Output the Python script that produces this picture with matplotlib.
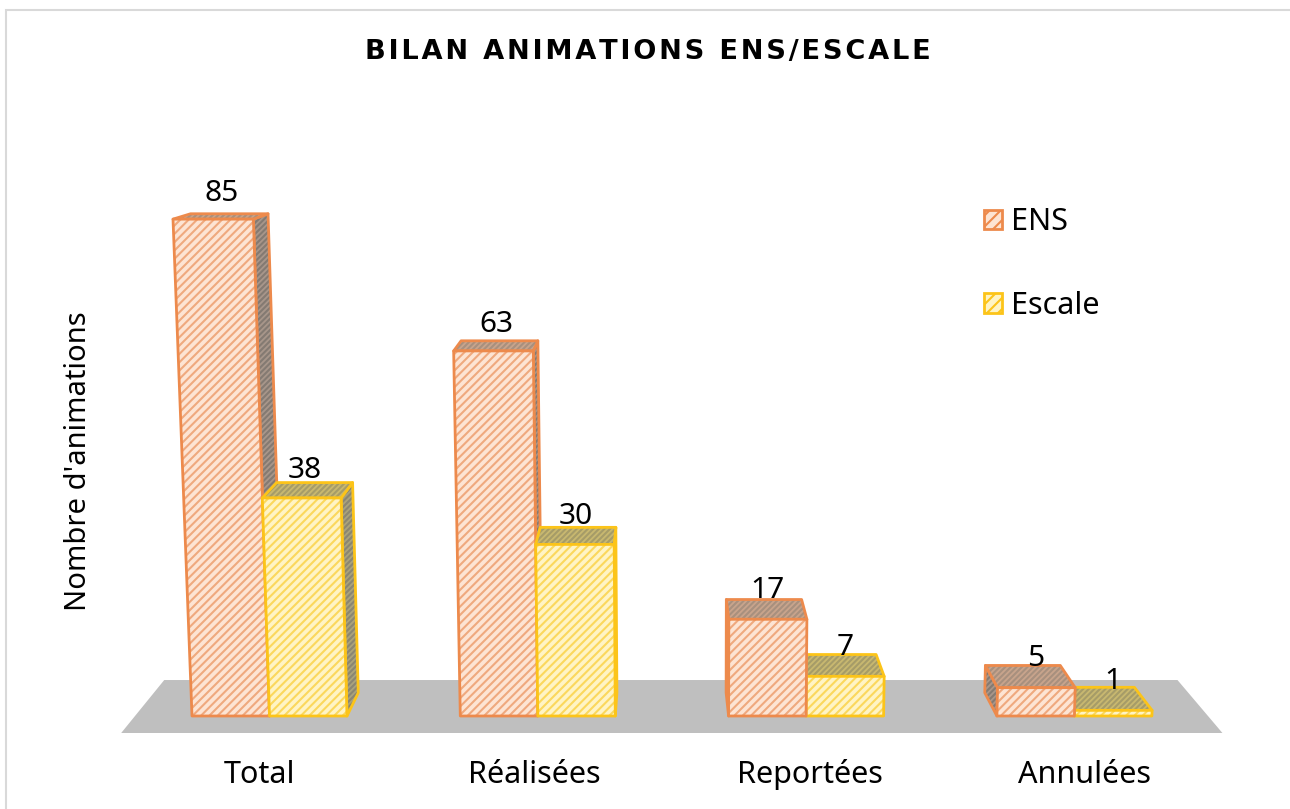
import matplotlib
matplotlib.use("Agg")
import matplotlib.pyplot as plt
from matplotlib.patches import Polygon, Rectangle, Patch

categories = ["Total", "Réalisées", "Reportées", "Annulées"]
series_names = ["ENS", "Escale"]
ens_values = [85, 63, 17, 5]
escale_values = [38, 30, 7, 1]
title = "BILAN ANIMATIONS ENS/ESCALE"
y_label = "Nombre d'animations"

FONT = "Noto Sans"
plt.rcParams["hatch.linewidth"] = 1.5

W, H = 1290, 809
fig = plt.figure(figsize=(W / 100, H / 100), dpi=100)
ax = fig.add_axes([0, 0, 1, 1])
ax.set_xlim(0, W)
ax.set_ylim(H, 0)
ax.axis("off")

# Perspective projection of (base x, value, depth) onto the picture
VPX, VPY = 660.0, 70.0
BASE_Y = 716.0
DEPTH = 0.036
FIRST_X, STEP, BAR_W = 192.0, 268.3, 77.5


def project(x, h, d=0.0):
    y0 = BASE_Y - (5.65 * h + 0.0023 * h * h)
    x0 = x + (x - 700.0) * 0.00044 * h
    return x0 + d * (VPX - x0), y0 + d * (VPY - y0)


def face(points, fill, hatch_col, edge, z, hatch="////"):
    ax.add_patch(Polygon(points, closed=True, facecolor=fill, edgecolor=hatch_col,
                         hatch=hatch, linewidth=0, zorder=z))
    ax.add_patch(Polygon(points, closed=True, facecolor="none", edgecolor=edge,
                         linewidth=2.0, joinstyle="round", zorder=z))


STYLES = {
    "ENS": dict(front="#fde4d3", hatch="#efa97e", edge="#ed8a4c",
                top="#c8a48c", top_h="#a8907e", side="#a8968a", side_h="#847a72"),
    "Escale": dict(front="#fff4c4", hatch="#fbd85c", edge="#fcc419",
                   top="#c8b870", top_h="#a69c68", side="#aaa37c", side_h="#8a8672"),
}

# Border and floor
ax.add_patch(Rectangle((6, 10), W + 20, H + 20, facecolor="white",
                       edgecolor="#d9d9d9", linewidth=1.5, zorder=0))
FLOOR_L, FLOOR_R = 135.0, 1208.0
ax.add_patch(Polygon([project(FLOOR_L, 0, -0.0263), project(FLOOR_R, 0, -0.0263),
                      project(FLOOR_R, 0, 0.0557), project(FLOOR_L, 0, 0.0557)],
                     closed=True, facecolor="#bfbfbf", edgecolor="none", zorder=1))

# Bars, the ones farthest from the vanishing point first
bars = []
for i, cat in enumerate(categories):
    x0 = FIRST_X + STEP * i
    bars.append(("ENS", x0, ens_values[i]))
    bars.append(("Escale", x0 + BAR_W, escale_values[i]))
bars.sort(key=lambda b: -abs(b[1] + BAR_W / 2 - VPX))

z = 2
for name, x, v in bars:
    s = STYLES[name]
    xr = x + BAR_W
    fl0, fr0 = project(x, 0), project(xr, 0)
    fl1, fr1 = project(x, v), project(xr, v)
    bl1, br1 = project(x, v, DEPTH), project(xr, v, DEPTH)
    bl0, br0 = project(x, 0, DEPTH), project(xr, 0, DEPTH)
    if bl1[0] < fl1[0] - 1:
        face([fl0, fl1, bl1, bl0], s["side"], s["side_h"], s["edge"], z, "//////")
    if br1[0] > fr1[0] + 1:
        face([fr0, fr1, br1, br0], s["side"], s["side_h"], s["edge"], z, "//////")
    face([fl1, fr1, br1, bl1], s["top"], s["top_h"], s["edge"], z, "//////")
    face([fl0, fr0, fr1, fl1], s["front"], s["hatch"], s["edge"], z)
    z += 1

# Value labels and category labels
for i, cat in enumerate(categories):
    x0 = FIRST_X + STEP * i
    for xs, v in ((x0, ens_values[i]), (x0 + BAR_W, escale_values[i])):
        base_c = project(xs + BAR_W / 2, 0)[0]
        top_c = project(xs + BAR_W / 2, v)[0]
        yb = project(xs, v, DEPTH)[1]
        ax.text((base_c + top_c) / 2, yb - (6 + 0.17 * v), str(v), ha="center", va="center",
                fontsize=21.5, family=FONT, color="black", zorder=50)
    cx, cy = project(x0 + BAR_W, 0, -0.025)
    ax.text(cx, 775, cat, ha="center", va="center", fontsize=22, family=FONT,
            color="black", zorder=50)

ax.text(648, 52, "\u200a".join(title), ha="center", va="center", fontsize=19.6,
        fontweight="bold", family="DejaVu Sans", color="black", zorder=50)
ax.text(79, 461, y_label, rotation=90, ha="center", va="center", fontsize=21,
        family=FONT, color="black", zorder=50)

handles = [Patch(facecolor=STYLES[n]["front"], edgecolor=STYLES[n]["edge"], hatch="///",
                 linewidth=2) for n in series_names]
leg = ax.legend(handles, series_names, loc="upper left", bbox_to_anchor=(984 / W, 1 - 207.5 / H),
                frameon=False, prop={"family": FONT, "size": 22}, handlelength=0.6,
                handleheight=0.6, handletextpad=0.28, labelspacing=1.74,
                borderpad=0, borderaxespad=0)

fig.savefig("out.png", dpi=100)
